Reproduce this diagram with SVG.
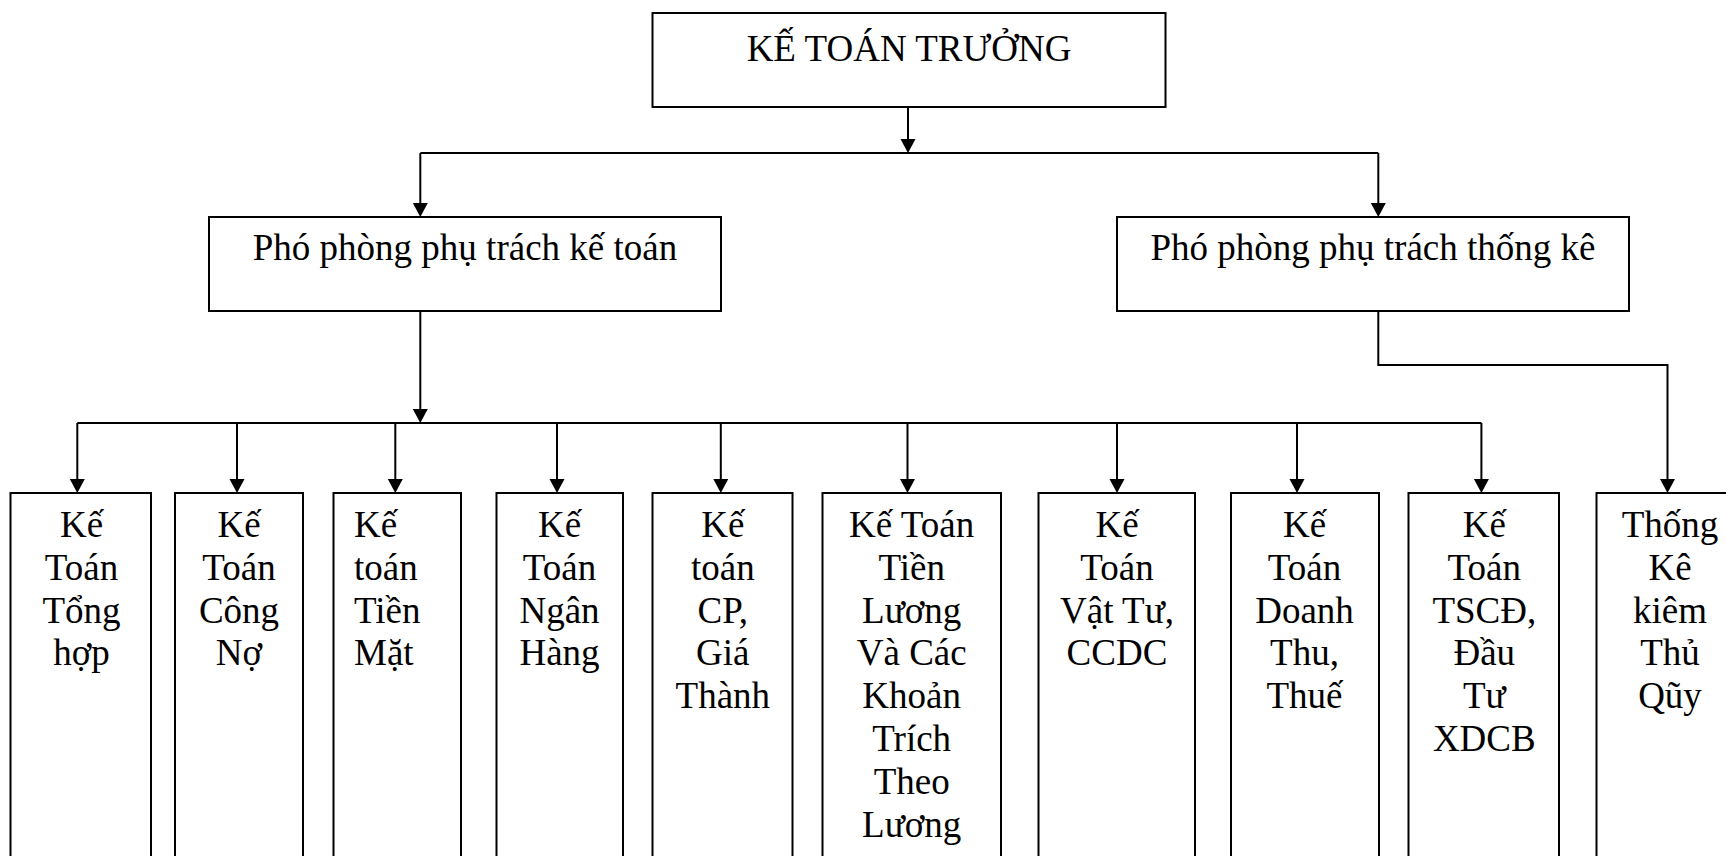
<svg xmlns="http://www.w3.org/2000/svg" width="1726" height="856" viewBox="0 0 1726 856">
  <style>
    .box { fill: #fff; stroke: #000; stroke-width: 2; }
    .lbl { font-family: "Liberation Serif", "Times New Roman", serif; font-size: 37px; fill: #000; text-anchor: middle; }
    .lbl-left { text-anchor: start; }
    .wire { fill: none; stroke: #000; stroke-width: 2; }
    .tip { fill: none; stroke: #000; stroke-width: 2; marker-end: url(#arrow); }
  </style>
  <defs>
    <marker id="arrow" markerUnits="userSpaceOnUse" markerWidth="16" markerHeight="16" refX="9" refY="7.5" orient="auto">
      <path d="M0,0 L14,7.5 L0,15 Z" fill="#000"/>
    </marker>
  </defs>
  <rect width="1726" height="856" fill="#fff"/>

  <!-- connectors -->
  <g id="connectors">
    <path class="tip" d="M908,107 V148"/>
    <path class="wire" d="M420.3,153 H1378.3"/>
    <path class="tip" d="M420.3,153 V212"/>
    <path class="tip" d="M1378.3,153 V212"/>
    <path class="tip" d="M420.3,311 V418"/>
    <path class="wire" d="M77.3,423 H1481.4"/>
    <path class="tip" d="M77.3,423 V488"/>
    <path class="tip" d="M237,423 V488"/>
    <path class="tip" d="M395.3,423 V488"/>
    <path class="tip" d="M557,423 V488"/>
    <path class="tip" d="M720.8,423 V488"/>
    <path class="tip" d="M907.5,423 V488"/>
    <path class="tip" d="M1117,423 V488"/>
    <path class="tip" d="M1297,423 V488"/>
    <path class="tip" d="M1481.4,423 V488"/>
    <path class="tip" d="M1378.3,311 V365 H1667.5 V488"/>
  </g>

  <!-- chief accountant -->
  <g id="ke-toan-truong">
    <rect class="box" x="652.5" y="13" width="513" height="94"/>
    <text class="lbl" x="909" y="61">KẾ TOÁN TRƯỞNG</text>
  </g>

  <!-- deputies -->
  <g id="pho-phong-ke-toan">
    <rect class="box" x="209" y="217" width="512" height="94"/>
    <text class="lbl" x="465" y="260">Phó phòng phụ trách kế toán</text>
  </g>
  <g id="pho-phong-thong-ke">
    <rect class="box" x="1117" y="217" width="512" height="94"/>
    <text class="lbl" x="1373" y="260">Phó phòng phụ trách thống kê</text>
  </g>

  <!-- staff columns -->
  <g id="ke-toan-tong-hop">
    <rect class="box" x="10.5" y="493" width="140.5" height="390"/>
    <text class="lbl" x="81.5" y="537">
      <tspan x="81.5">Kế</tspan><tspan x="81.5" dy="42.8">Toán</tspan><tspan x="81.5" dy="42.8">Tổng</tspan><tspan x="81.5" dy="42.8">hợp</tspan>
    </text>
  </g>
  <g id="ke-toan-cong-no">
    <rect class="box" x="175" y="493" width="128" height="390"/>
    <text class="lbl" x="239" y="537">
      <tspan x="239">Kế</tspan><tspan x="239" dy="42.8">Toán</tspan><tspan x="239" dy="42.8">Công</tspan><tspan x="239" dy="42.8">Nợ</tspan>
    </text>
  </g>
  <g id="ke-toan-tien-mat">
    <rect class="box" x="333.5" y="493" width="127.5" height="390"/>
    <text class="lbl lbl-left" x="354" y="537">
      <tspan x="354">Kế</tspan><tspan x="354" dy="42.8">toán</tspan><tspan x="354" dy="42.8">Tiền</tspan><tspan x="354" dy="42.8">Mặt</tspan>
    </text>
  </g>
  <g id="ke-toan-ngan-hang">
    <rect class="box" x="496.5" y="493" width="126.5" height="390"/>
    <text class="lbl" x="559.5" y="537">
      <tspan x="559.5">Kế</tspan><tspan x="559.5" dy="42.8">Toán</tspan><tspan x="559.5" dy="42.8">Ngân</tspan><tspan x="559.5" dy="42.8">Hàng</tspan>
    </text>
  </g>
  <g id="ke-toan-cp-gia-thanh">
    <rect class="box" x="652.5" y="493" width="140" height="390"/>
    <text class="lbl" x="722.8" y="537">
      <tspan x="722.8">Kế</tspan><tspan x="722.8" dy="42.8">toán</tspan><tspan x="722.8" dy="42.8">CP,</tspan><tspan x="722.8" dy="42.8">Giá</tspan><tspan x="722.8" dy="42.8">Thành</tspan>
    </text>
  </g>
  <g id="ke-toan-tien-luong">
    <rect class="box" x="822.5" y="493" width="178.5" height="390"/>
    <text class="lbl" x="911.7" y="537">
      <tspan x="911.7">Kế Toán</tspan><tspan x="911.7" dy="42.8">Tiền</tspan><tspan x="911.7" dy="42.8">Lương</tspan><tspan x="911.7" dy="42.8">Và Các</tspan><tspan x="911.7" dy="42.8">Khoản</tspan><tspan x="911.7" dy="42.8">Trích</tspan><tspan x="911.7" dy="42.8">Theo</tspan><tspan x="911.7" dy="42.8">Lương</tspan>
    </text>
  </g>
  <g id="ke-toan-vat-tu">
    <rect class="box" x="1038.5" y="493" width="156.5" height="390"/>
    <text class="lbl" x="1117" y="537">
      <tspan x="1117">Kế</tspan><tspan x="1117" dy="42.8">Toán</tspan><tspan x="1117" dy="42.8">Vật Tư,</tspan><tspan x="1117" dy="42.8">CCDC</tspan>
    </text>
  </g>
  <g id="ke-toan-doanh-thu">
    <rect class="box" x="1231" y="493" width="148" height="390"/>
    <text class="lbl" x="1304.5" y="537">
      <tspan x="1304.5">Kế</tspan><tspan x="1304.5" dy="42.8">Toán</tspan><tspan x="1304.5" dy="42.8">Doanh</tspan><tspan x="1304.5" dy="42.8">Thu,</tspan><tspan x="1304.5" dy="42.8">Thuế</tspan>
    </text>
  </g>
  <g id="ke-toan-tscd">
    <rect class="box" x="1408.5" y="493" width="150.5" height="390"/>
    <text class="lbl" x="1484.3" y="537">
      <tspan x="1484.3">Kế</tspan><tspan x="1484.3" dy="42.8">Toán</tspan><tspan x="1484.3" dy="42.8">TSCĐ,</tspan><tspan x="1484.3" dy="42.8">Đầu</tspan><tspan x="1484.3" dy="42.8">Tư</tspan><tspan x="1484.3" dy="42.8">XDCB</tspan>
    </text>
  </g>
  <g id="thong-ke-thu-quy">
    <rect class="box" x="1596.5" y="493" width="148.5" height="390"/>
    <text class="lbl" x="1670" y="537">
      <tspan x="1670">Thống</tspan><tspan x="1670" dy="42.8">Kê</tspan><tspan x="1670" dy="42.8">kiêm</tspan><tspan x="1670" dy="42.8">Thủ</tspan><tspan x="1670" dy="42.8">Qũy</tspan>
    </text>
  </g>
</svg>
